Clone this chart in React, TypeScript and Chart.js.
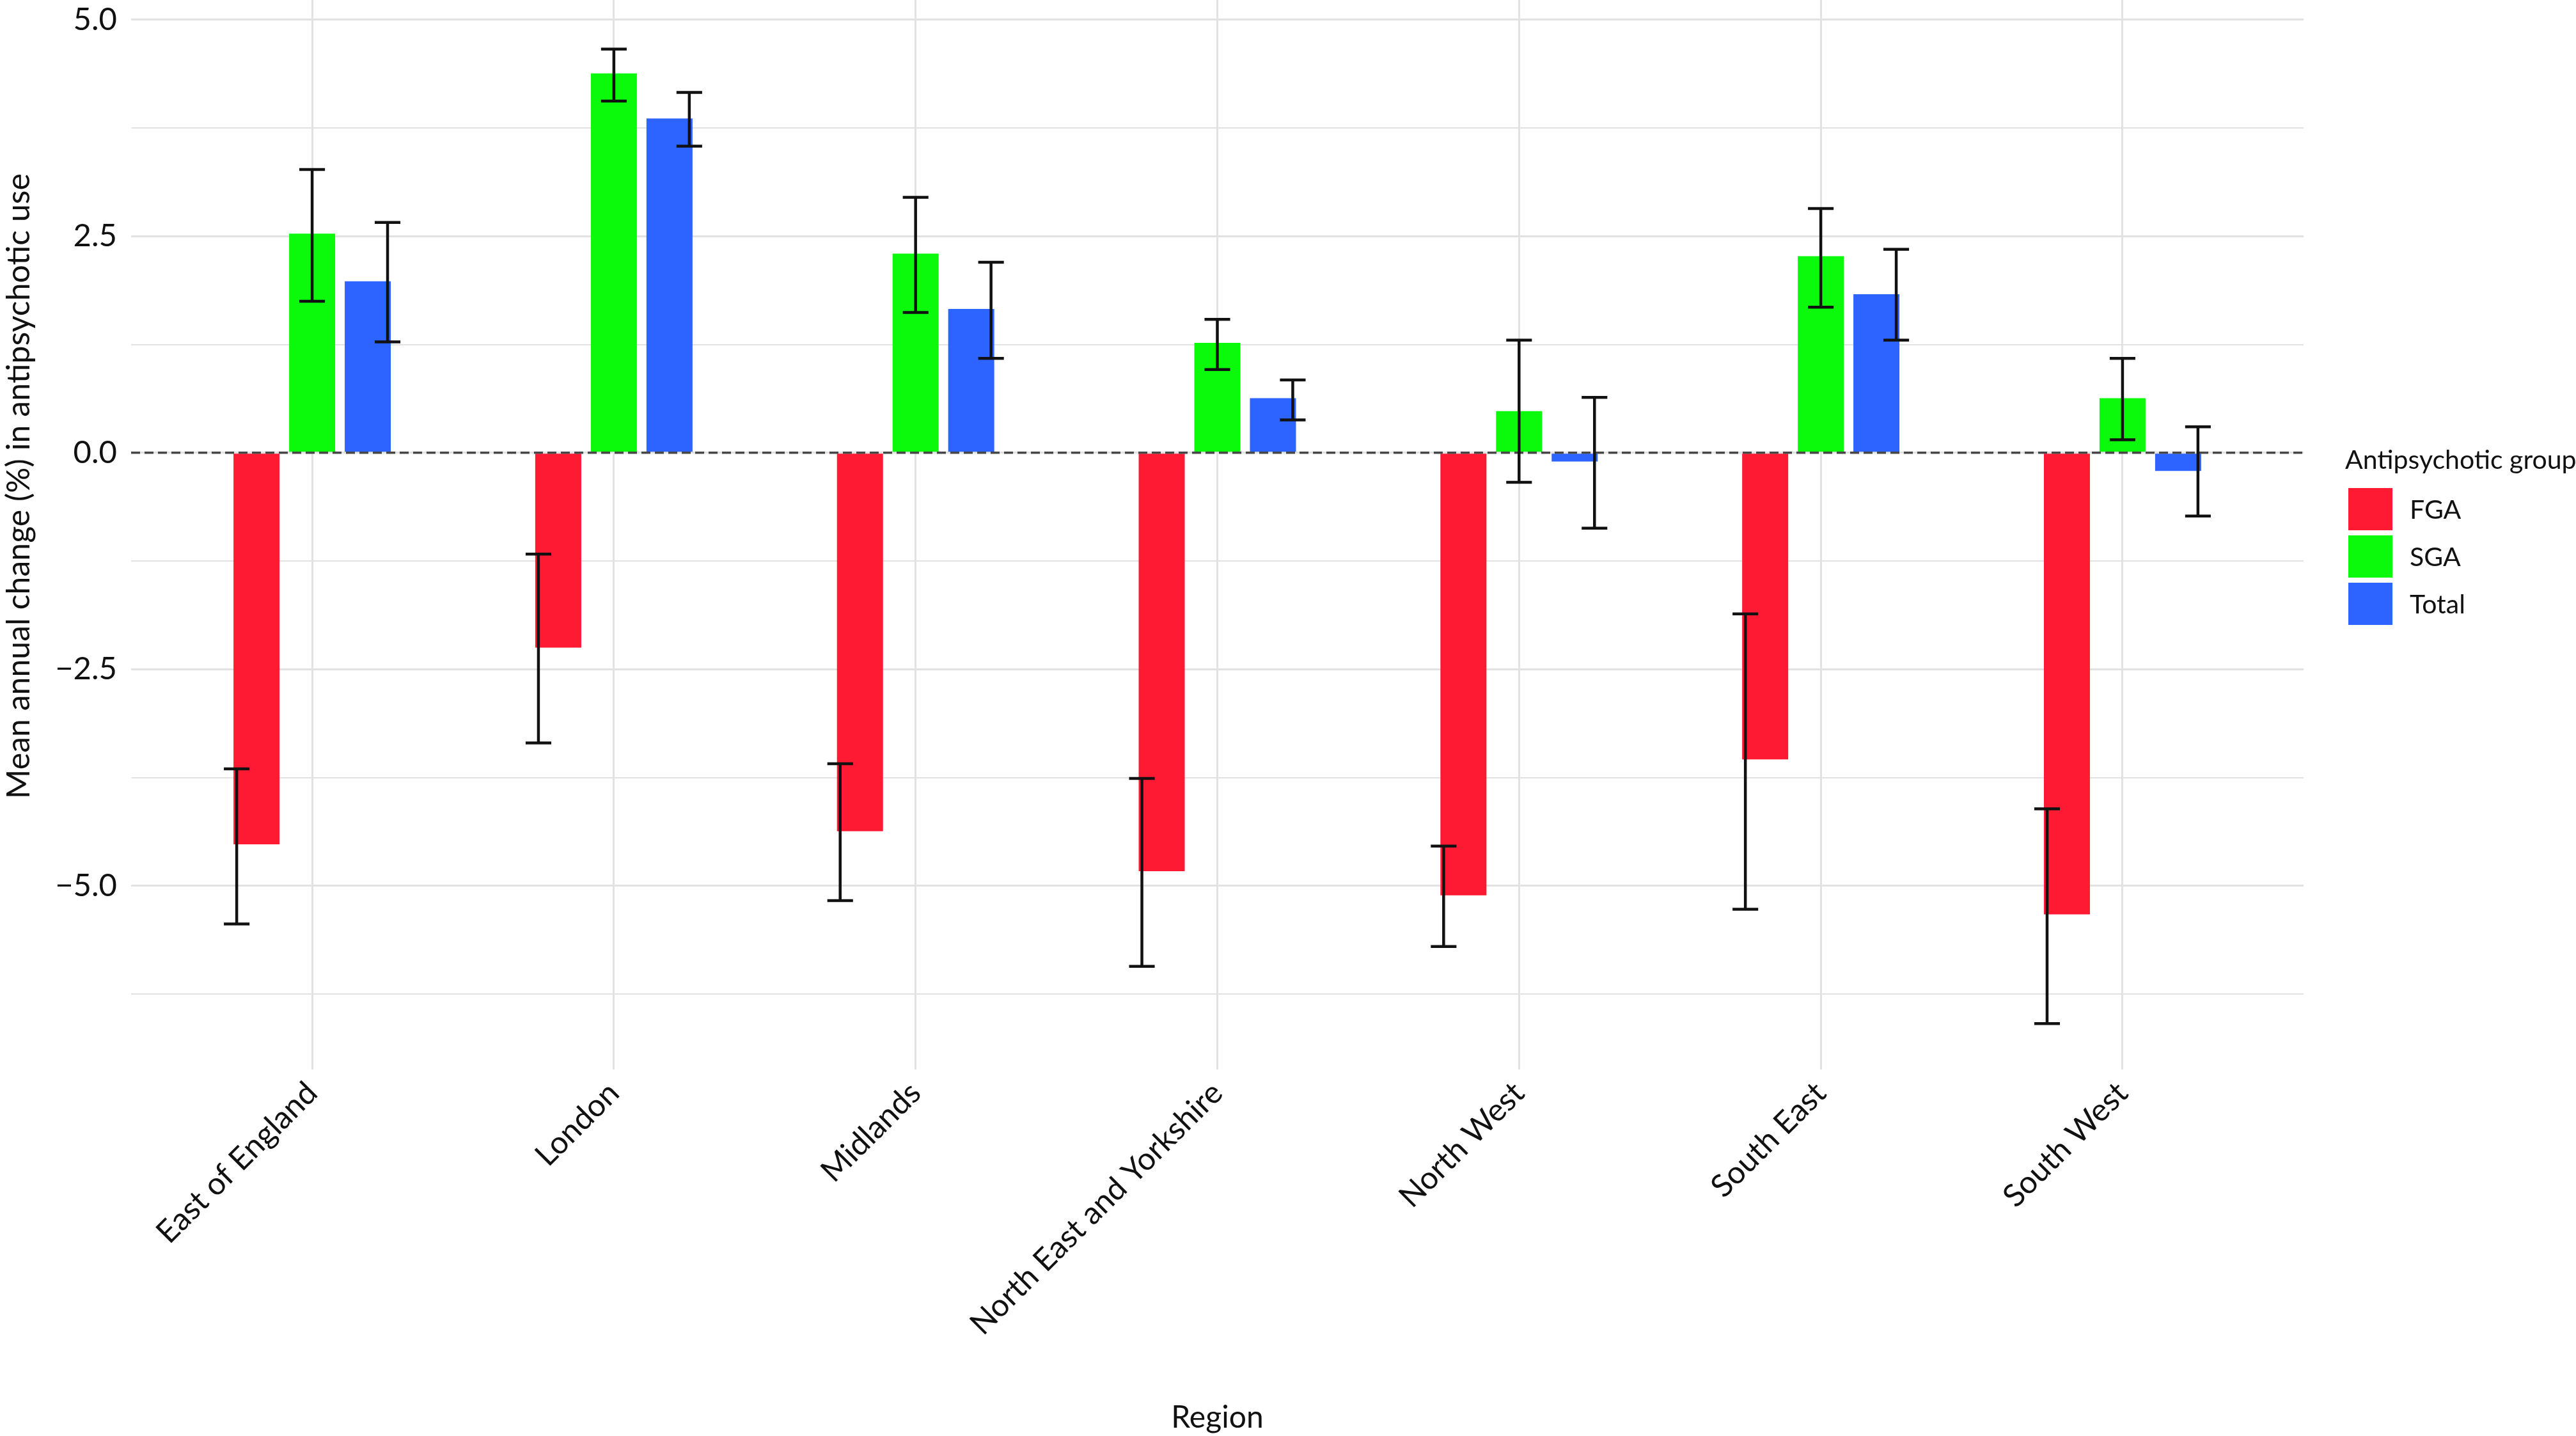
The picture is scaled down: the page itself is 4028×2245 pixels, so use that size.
import React, { useEffect, useRef } from 'react';
import { Chart, registerables } from 'chart.js';

Chart.register(...registerables);

// ---- data -------------------------------------------------------------
const REGIONS = [
  'East of England',
  'London',
  'Midlands',
  'North East and Yorkshire',
  'North West',
  'South East',
  'South West',
];

const GROUPS = ['FGA', 'SGA', 'Total'];

// mean annual change (%) per region
const FGA_MEAN = [-4.52, -2.25, -4.37, -4.83, -5.11, -3.54, -5.33];
const SGA_MEAN = [2.53, 4.38, 2.30, 1.27, 0.48, 2.27, 0.63];
const TOTAL_MEAN = [1.98, 3.86, 1.66, 0.63, -0.10, 1.83, -0.21];

// 95% interval bounds
const FGA_LOW = [-5.44, -3.35, -5.17, -5.93, -5.70, -5.27, -6.59];
const FGA_HIGH = [-3.65, -1.17, -3.59, -3.76, -4.54, -1.86, -4.11];
const SGA_LOW = [1.75, 4.06, 1.62, 0.96, -0.34, 1.68, 0.15];
const SGA_HIGH = [3.27, 4.66, 2.95, 1.54, 1.30, 2.82, 1.09];
const TOTAL_LOW = [1.28, 3.54, 1.09, 0.38, -0.87, 1.30, -0.73];
const TOTAL_HIGH = [2.66, 4.16, 2.20, 0.84, 0.64, 2.35, 0.30];

const Y_TICK_STEP = 1.25; // minor grid spacing
const Y_LABEL_STEP = 2.5; // labelled ticks
const Y_MIN = -7.12;
const Y_MAX = 6.35;

const X_TITLE = 'Region';
const Y_TITLE = 'Mean annual change (%) in antipsychotic use';
const LEGEND_TITLE = 'Antipsychotic group';

// ---- styling ----------------------------------------------------------
const COLORS = ['#FF1A33', '#0BFA0B', '#2D63FF'];
const FONT = 'Lato, "Open Sans", sans-serif';
const TEXT = '#111111';
const GRID = '#e2e2e2';

const W = 4028;
const H = 2245;
const TOP_HIDDEN = 152; // the upper part of the panel sits above the page
const CANVAS_H = H + TOP_HIDDEN;
const LEFT_AXIS_W = 205;
const RIGHT_PAD = 426;
const BOTTOM_AXIS_H = 573;
const X_EXPAND = 0.6; // category padding at both ends of the x axis
const ERR_DODGE = 0.25; // error bar offset, in category widths
const ERR_CAP = 0.085; // error bar cap width, in category widths

const series = [
  { label: GROUPS[0], mean: FGA_MEAN, low: FGA_LOW, high: FGA_HIGH, color: COLORS[0] },
  { label: GROUPS[1], mean: SGA_MEAN, low: SGA_LOW, high: SGA_HIGH, color: COLORS[1] },
  { label: GROUPS[2], mean: TOTAL_MEAN, low: TOTAL_LOW, high: TOTAL_HIGH, color: COLORS[2] },
];

const isLabelled = (v: number) => Math.abs(v / Y_LABEL_STEP - Math.round(v / Y_LABEL_STEP)) < 1e-6;
const fmt = (v: number) => (Math.abs(v) < 1e-9 ? '0.0' : v.toFixed(1).replace('-', '\u2212'));

const noScalePadding = (scale: any) => {
  scale.paddingTop = 0;
  scale.paddingBottom = 0;
  scale.paddingLeft = 0;
  scale.paddingRight = 0;
};

// dashed zero line and error bars drawn over the bars
const errorBarPlugin = {
  id: 'errorBars',
  afterDatasetsDraw(chart: any) {
    const { ctx, chartArea, scales } = chart;
    const x = scales.x;
    const y = scales.y;
    ctx.save();
    const y0 = y.getPixelForValue(0);
    ctx.strokeStyle = '#474747';
    ctx.lineWidth = 3.5;
    ctx.setLineDash([14, 7]);
    ctx.beginPath();
    ctx.moveTo(chartArea.left, y0);
    ctx.lineTo(chartArea.right, y0);
    ctx.stroke();
    ctx.setLineDash([]);

    const catW = x.getPixelForValue(1) - x.getPixelForValue(0);
    const half = (ERR_CAP * catW) / 2;
    ctx.strokeStyle = '#111111';
    ctx.lineWidth = 4.5;
    ctx.lineCap = 'butt';
    series.forEach((s, si) => {
      const shift = (si - 1) * ERR_DODGE * catW;
      REGIONS.forEach((_, i) => {
        const cx = x.getPixelForValue(i) + shift;
        const yl = y.getPixelForValue(s.low[i]);
        const yh = y.getPixelForValue(s.high[i]);
        ctx.beginPath();
        ctx.moveTo(cx - half, yh);
        ctx.lineTo(cx + half, yh);
        ctx.moveTo(cx, yh);
        ctx.lineTo(cx, yl);
        ctx.moveTo(cx - half, yl);
        ctx.lineTo(cx + half, yl);
        ctx.stroke();
      });
    });
    ctx.restore();
  },
};

// legend to the right of the panel
const legendPlugin = {
  id: 'sideLegend',
  afterDraw(chart: any) {
    const { ctx, chartArea } = chart;
    const left = chartArea.right + 65;
    const keyLeft = chartArea.right + 70;
    const titleBase = 733 + TOP_HIDDEN;
    const keyTop = 763 + TOP_HIDDEN;
    const keyW = 69;
    const keyH = 66;
    const step = 74;
    ctx.save();
    ctx.fillStyle = TEXT;
    ctx.font = `41px ${FONT}`;
    ctx.textAlign = 'left';
    ctx.textBaseline = 'alphabetic';
    ctx.fillText(LEGEND_TITLE, left, titleBase);
    series.forEach((s, i) => {
      const top = keyTop + i * step;
      ctx.fillStyle = s.color;
      ctx.fillRect(keyLeft, top, keyW, keyH);
      ctx.fillStyle = TEXT;
      ctx.fillText(s.label, keyLeft + 96, top + keyH / 2 + 15);
    });
    ctx.restore();
  },
};

export default function App() {
  const ref = useRef<HTMLCanvasElement | null>(null);

  useEffect(() => {
    if (!ref.current) return;
    const chart = new Chart(ref.current, {
      type: 'bar',
      data: {
        labels: REGIONS,
        datasets: series.map((s) => ({
          label: s.label,
          data: s.mean,
          backgroundColor: s.color,
          borderWidth: 0,
          categoryPercentage: 0.553,
          barPercentage: 0.828,
        })),
      },
      options: {
        responsive: false,
        animation: false,
        devicePixelRatio: 1,
        layout: { padding: { left: 0, right: RIGHT_PAD, top: 0, bottom: 0 } },
        plugins: {
          legend: { display: false },
          tooltip: { enabled: false },
        },
        scales: {
          x: {
            type: 'category',
            offset: true,
            afterBuildTicks: (scale: any) => {
              scale._startValue = scale.min - X_EXPAND;
              scale._valueRange = scale.max - scale.min + 2 * X_EXPAND;
            },
            afterFit: (scale: any) => {
              scale.height = BOTTOM_AXIS_H;
              noScalePadding(scale);
            },
            grid: { offset: false, color: GRID, lineWidth: 3, drawTicks: false },
            border: { display: false },
            ticks: {
              minRotation: 45,
              maxRotation: 45,
              autoSkip: false,
              padding: 8,
              color: TEXT,
              font: { family: FONT, size: 49 },
            },
            title: {
              display: true,
              text: X_TITLE,
              color: TEXT,
              padding: 0,
              font: { family: FONT, size: 48 },
            },
          },
          y: {
            type: 'linear',
            min: Y_MIN,
            max: Y_MAX,
            afterFit: (scale: any) => {
              scale.width = LEFT_AXIS_W;
              noScalePadding(scale);
            },
            grid: {
              color: GRID,
              lineWidth: (c: any) => (c.tick && isLabelled(c.tick.value) ? 3 : 2),
              drawTicks: false,
            },
            border: { display: false },
            ticks: {
              stepSize: Y_TICK_STEP,
              includeBounds: false,
              autoSkip: false,
              padding: 22,
              color: TEXT,
              font: { family: FONT, size: 49 },
              callback: (v: any) => (isLabelled(Number(v)) ? fmt(Number(v)) : ''),
            },
            title: {
              display: true,
              text: Y_TITLE,
              color: TEXT,
              padding: 0,
              font: { family: FONT, size: 50 },
            },
          },
        },
      },
      plugins: [errorBarPlugin, legendPlugin],
    } as any);
    return () => chart.destroy();
  }, []);

  return (
    <canvas
      ref={ref}
      width={W}
      height={CANVAS_H}
      style={{ position: 'fixed', left: 0, top: -TOP_HIDDEN, width: W, height: CANVAS_H, display: 'block' }}
    />
  );
}
